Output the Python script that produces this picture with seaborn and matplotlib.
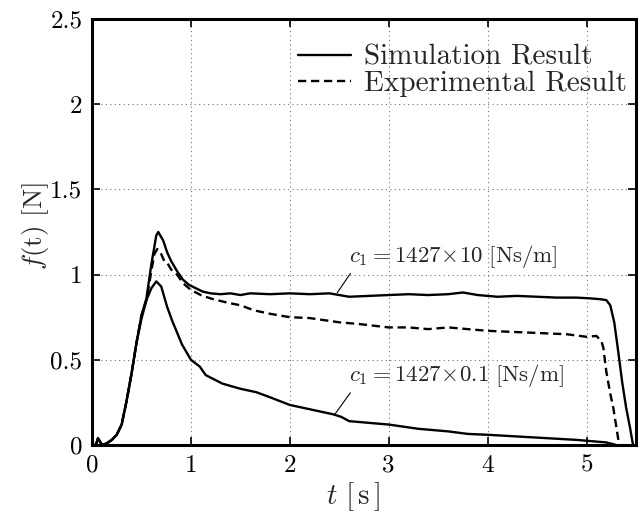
import matplotlib
matplotlib.use("Agg")
import matplotlib.pyplot as plt
import seaborn as sns
import pandas as pd

# ---- data ----
t_sim_high = [0, 0.04, 0.06, 0.1, 0.15, 0.2, 0.25, 0.3, 0.35, 0.4, 0.45, 0.5, 0.55, 0.6, 0.65, 0.67,
              0.72, 0.76, 0.8, 0.86, 0.92, 0.98, 1.05, 1.12, 1.2, 1.3, 1.4, 1.5, 1.6, 1.8, 2.0,
              2.2, 2.4, 2.5, 2.6, 2.8, 3.0, 3.2, 3.4, 3.6, 3.75, 3.9, 4.1, 4.3, 4.5, 4.7, 4.9,
              5.05, 5.15, 5.2, 5.24, 5.28, 5.32, 5.36, 5.4, 5.44, 5.47]
f_sim_high = [0.0, 0.0, 0.04, 0.0, 0.01, 0.03, 0.06, 0.12, 0.26, 0.42, 0.60, 0.76, 0.86, 1.06, 1.23, 1.25,
              1.20, 1.13, 1.08, 1.02, 0.97, 0.94, 0.92, 0.90, 0.89, 0.885, 0.89, 0.88, 0.89, 0.885, 0.89,
              0.885, 0.89, 0.88, 0.87, 0.875, 0.88, 0.885, 0.88, 0.885, 0.895, 0.88, 0.87, 0.875, 0.87, 0.865, 0.865,
              0.86, 0.855, 0.85, 0.82, 0.72, 0.55, 0.37, 0.22, 0.10, 0.0]

t_sim_low = [0, 0.04, 0.06, 0.1, 0.15, 0.2, 0.25, 0.3, 0.35, 0.4, 0.45, 0.5, 0.55, 0.6, 0.65, 0.7,
             0.76, 0.81, 0.86, 0.91, 0.96, 1.0, 1.09, 1.15, 1.32, 1.5, 1.66, 1.8, 2.0, 2.2, 2.44,
             2.52, 2.6, 2.8, 3.0, 3.3, 3.6, 3.8, 4.0, 4.3, 4.6, 4.9, 5.1, 5.2, 5.3]
f_sim_low = [0.0, 0.0, 0.04, 0.0, 0.01, 0.03, 0.06, 0.12, 0.26, 0.42, 0.60, 0.74, 0.85, 0.92, 0.96, 0.93,
             0.81, 0.73, 0.66, 0.59, 0.54, 0.50, 0.46, 0.41, 0.36, 0.33, 0.31, 0.28, 0.235, 0.21, 0.18,
             0.165, 0.14, 0.13, 0.12, 0.095, 0.08, 0.065, 0.06, 0.05, 0.04, 0.03, 0.02, 0.015, 0.0]

t_exp = [0, 0.04, 0.06, 0.1, 0.15, 0.2, 0.25, 0.3, 0.35, 0.4, 0.45, 0.5, 0.55, 0.6, 0.63, 0.66,
         0.7, 0.73, 0.76, 0.8, 0.86, 0.92, 0.96, 1.0, 1.1, 1.2, 1.37, 1.5, 1.64, 1.8, 2.0,
         2.2, 2.5, 2.7, 3.0, 3.2, 3.4, 3.6, 3.8, 4.0, 4.2, 4.4, 4.6, 4.8, 5.0, 5.1, 5.15,
         5.17, 5.2, 5.24, 5.27, 5.3, 5.33]
f_exp = [0.0, 0.0, 0.04, 0.0, 0.01, 0.03, 0.06, 0.12, 0.26, 0.42, 0.60, 0.76, 0.85, 1.02, 1.12, 1.15,
         1.12, 1.08, 1.07, 1.03, 1.00, 0.95, 0.93, 0.91, 0.88, 0.86, 0.835, 0.82, 0.79, 0.77, 0.75,
         0.745, 0.72, 0.71, 0.69, 0.69, 0.68, 0.69, 0.68, 0.67, 0.665, 0.66, 0.655, 0.65, 0.635, 0.64, 0.61,
         0.57, 0.43, 0.30, 0.22, 0.11, 0.0]

x_ticks = [0, 1, 2, 3, 4, 5]
y_ticks = [0, 0.5, 1, 1.5, 2, 2.5]
y_tick_labels = ["0", "0.5", "1", "1.5", "2", "2.5"]
legend_labels = ["Simulation Result", "Experimental Result"]
annot_high = r"$c_1 = 1427\!\times\!10\ [\mathrm{Ns/m}]$"
annot_low = r"$c_1 = 1427\!\times\!0.1\ [\mathrm{Ns/m}]$"

# ---- style ----
sns.set_theme(style="white")
plt.rcParams.update({
    "font.family": ["cmr10", "DejaVu Serif"],
    "mathtext.fontset": "cm",
    "axes.formatter.use_mathtext": True,
    "axes.unicode_minus": False,
})

fig = plt.figure(figsize=(6.43, 5.16), dpi=100)
ax = fig.add_axes([92 / 643, (516 - 445) / 516, (636 - 92) / 643, (445 - 19) / 516])

df_high = pd.DataFrame({"t": t_sim_high, "f": f_sim_high})
df_low = pd.DataFrame({"t": t_sim_low, "f": f_sim_low})
df_exp = pd.DataFrame({"t": t_exp, "f": f_exp})

sns.lineplot(data=df_high, x="t", y="f", ax=ax, color="black", lw=1.7, label=legend_labels[0],
             estimator=None, sort=False)
sns.lineplot(data=df_exp, x="t", y="f", ax=ax, color="black", lw=1.7, linestyle=(0, (3.5, 2)),
             label=legend_labels[1], estimator=None, sort=False)
sns.lineplot(data=df_low, x="t", y="f", ax=ax, color="black", lw=1.7, estimator=None, sort=False)

ax.set_xlim(0, 5.5)
ax.set_ylim(0, 2.5)
ax.set_xticks(x_ticks)
ax.set_xticklabels([str(v) for v in x_ticks])
ax.set_yticks(y_ticks)
ax.set_yticklabels(y_tick_labels)
ax.tick_params(direction="in", length=6, width=1.2, labelsize=18, top=True, right=True,
               bottom=True, left=True, colors="black", pad=7)
for s in ax.spines.values():
    s.set_linewidth(2.2)
    s.set_color("black")
ax.grid(True, linestyle=(0, (1, 3)), color="0.45", linewidth=0.8)

ax.set_xlabel(r"$t\ [\,\mathrm{s}\,]$", fontsize=21)
ax.xaxis.set_label_coords(0.48, -0.082)
ax.set_ylabel(r"$f$(t) [N]", fontsize=19.5)
ax.yaxis.set_label_coords(-0.076, 0.514)

leg = ax.legend(loc="upper right", frameon=False, fontsize=21, handlelength=1.8,
                handletextpad=0.45, borderaxespad=0.0, borderpad=0.0, labelspacing=0.0,
                bbox_to_anchor=(0.983, 0.94))

ax.annotate(annot_high, xy=(2.48, 0.894), xytext=(2.60, 1.105), fontsize=16.5,
            va="center", ha="left",
            arrowprops=dict(arrowstyle="-", color="black", lw=0.8, shrinkA=0, shrinkB=0,
                            relpos=(0.03, 0.15)))
ax.annotate(annot_low, xy=(2.45, 0.176), xytext=(2.60, 0.405), fontsize=16.5,
            va="center", ha="left",
            arrowprops=dict(arrowstyle="-", color="black", lw=0.8, shrinkA=0, shrinkB=0,
                            relpos=(0.03, 0.15)))

fig.savefig("out.png", dpi=100)
